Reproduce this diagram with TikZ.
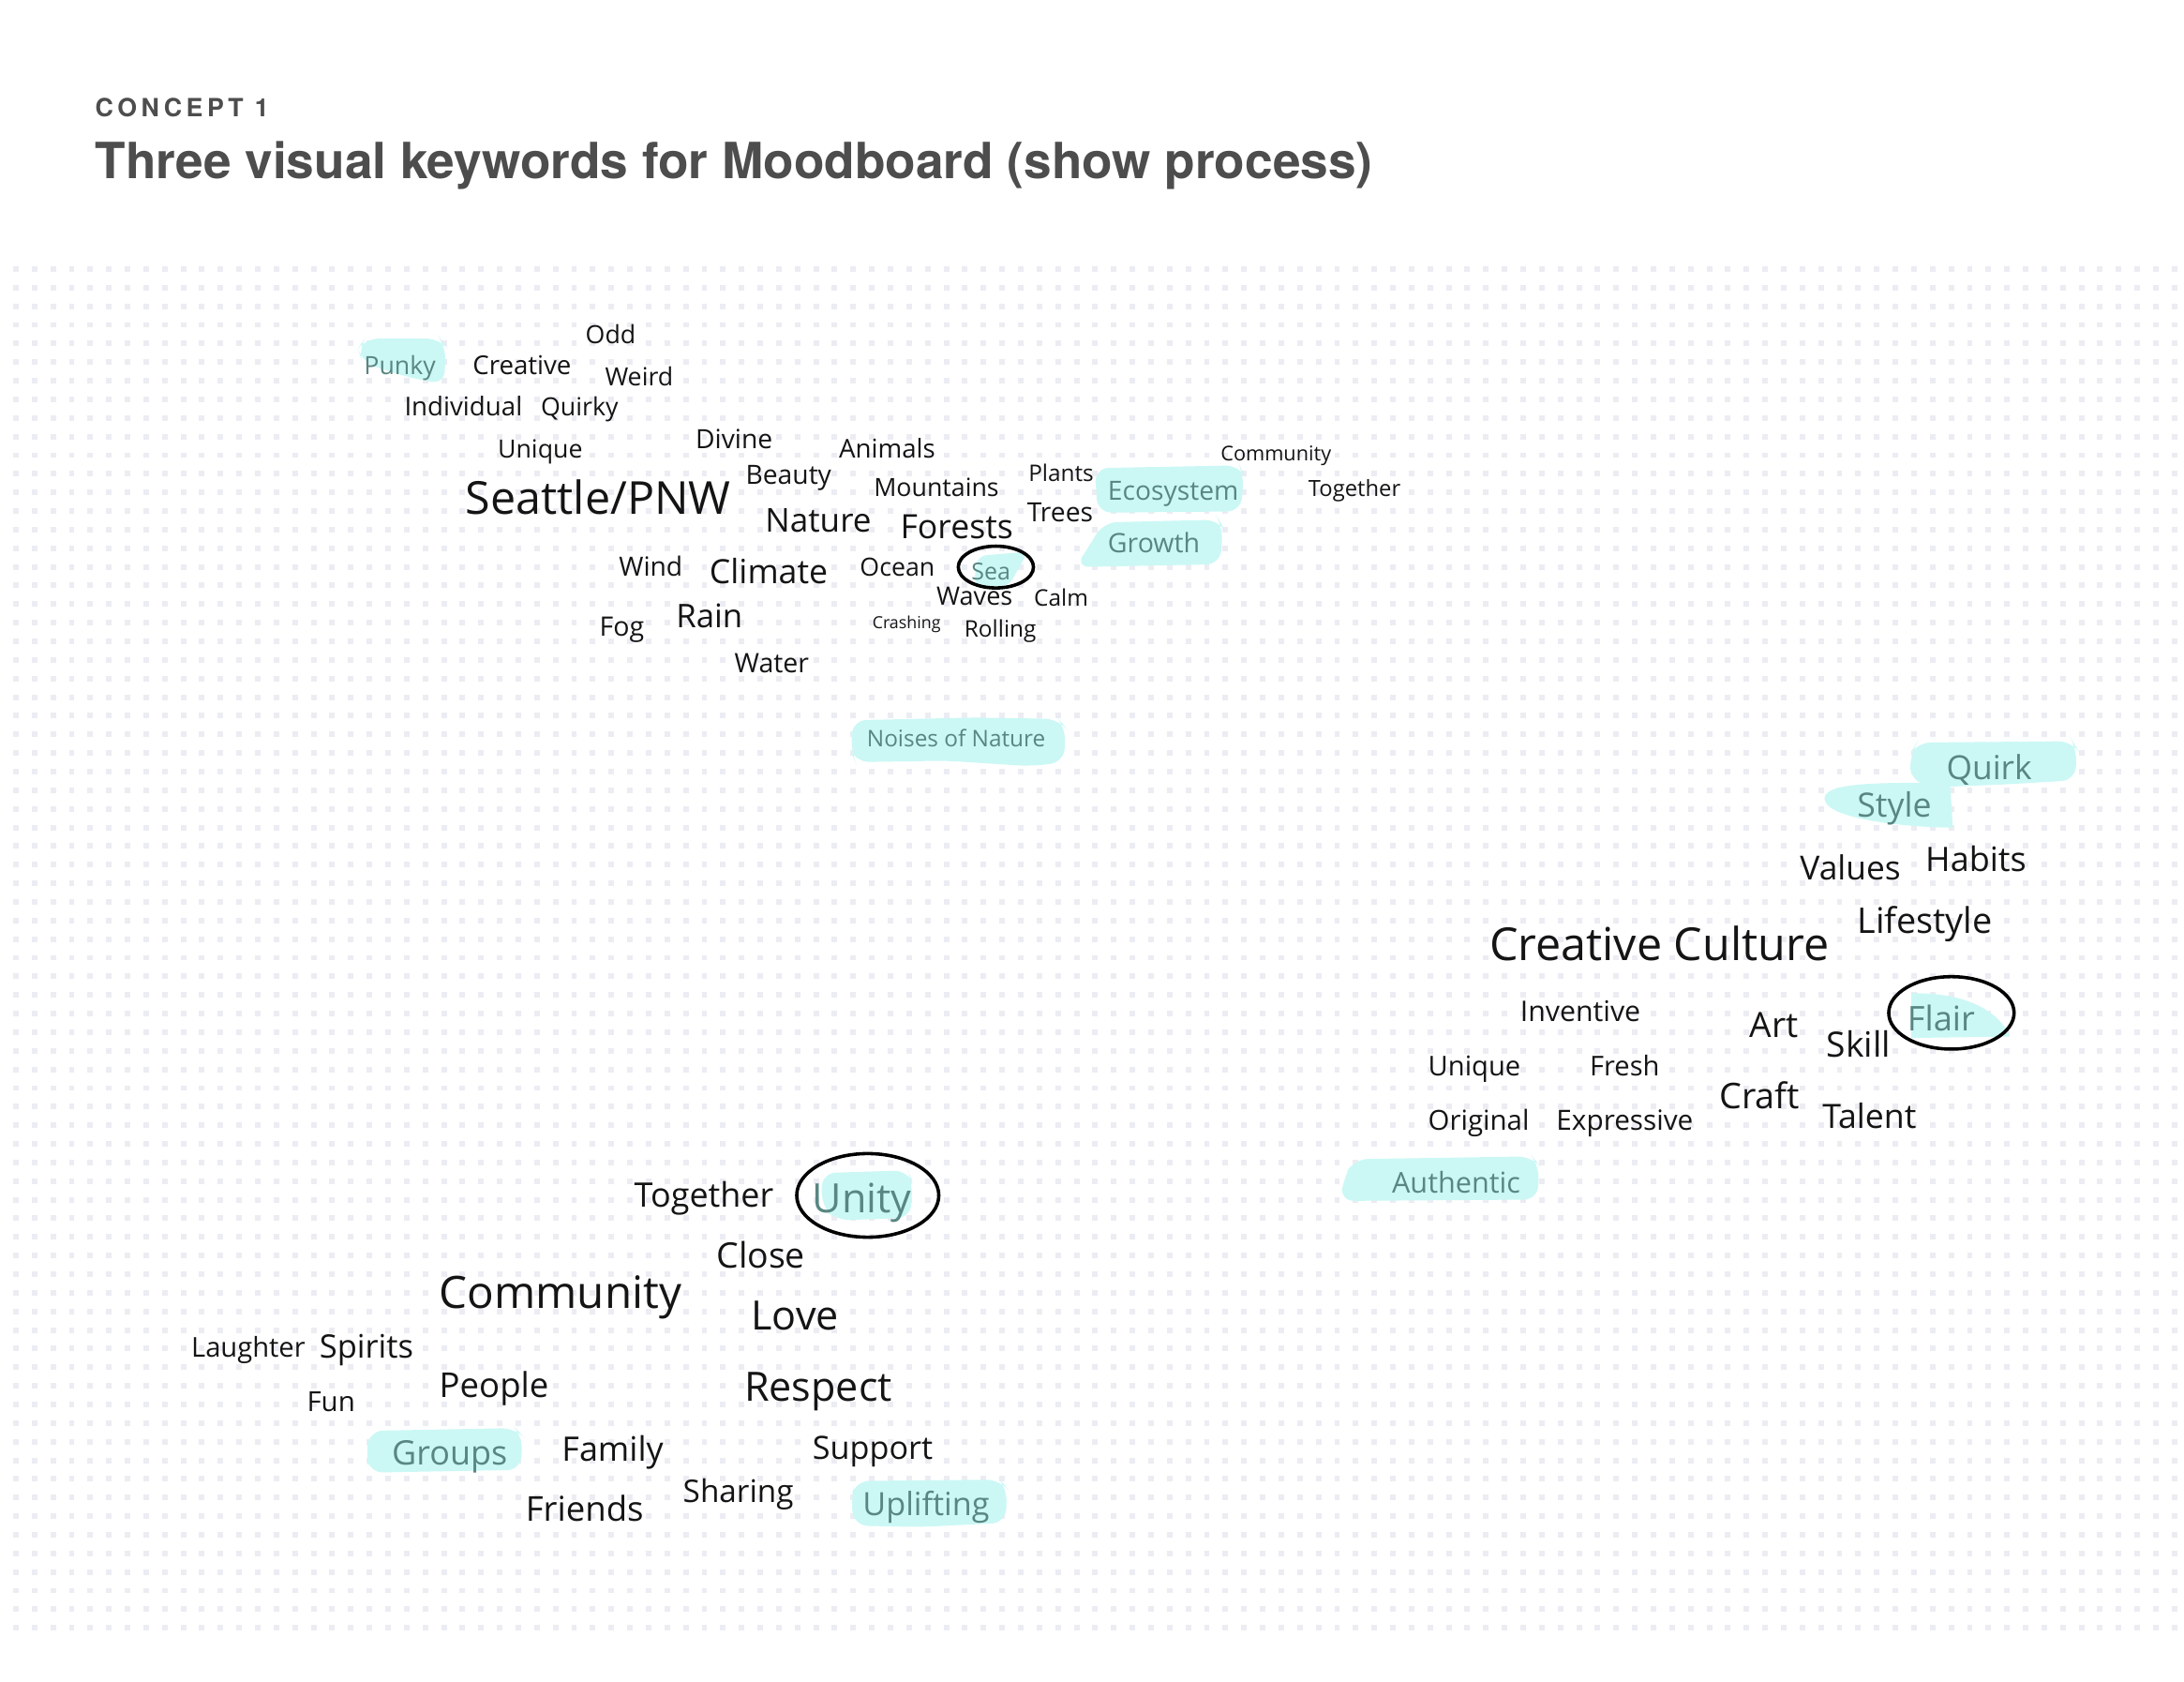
\documentclass[tikz,border=0pt]{standalone}
\usepackage{fontspec}
\setmainfont{Open Sans}
\newfontfamily\headfont{TeX Gyre Heros}
\newfontfamily\kickerfont[LetterSpace=17]{TeX Gyre Heros}
\newfontfamily\cloudfont{Open Sans}
\usetikzlibrary{positioning}
\newcommand\wsize[1]{\cloudfont\fontsize{#1}{#1}\selectfont}
\tikzset{
  kw/.style={anchor=mid west, inner sep=0pt, text=inkblack, font=\wsize{#1}, yshift={-0.18*#1pt}},
  pick/.style={kw=#1, text=hltext},
  hl/.style={fill=hlfill, rounded corners=5pt},
  ring/.style={draw=black, line width=1.2pt},
  dotrow/.style={draw=dotgrey, line width=2pt, dash pattern=on 2pt off 4.68pt},
  head/.style={anchor=base west, inner sep=0pt, text=headgrey}
}

\begin{document}
\begin{tikzpicture}[x=0.5pt, y=-0.5pt]
\definecolor{inkblack}{RGB}{20,20,20}
\definecolor{hltext}{RGB}{88,134,130}
\definecolor{hlfill}{RGB}{203,248,245}
\definecolor{dotgrey}{RGB}{236,236,243}
\definecolor{headgrey}{RGB}{77,77,77}

\useasboundingbox (0,0) rectangle (1568,1207);
\fill[white] (0,0) rectangle (1568,1207);

% dot grid
\foreach \r in {0,...,73}
  \draw[dotrow] (9.4,{193.1+13.36*\r}) -- (1563.5,{193.1+13.36*\r});

% heading
\node[head, font=\kickerfont\bfseries\fontsize{9}{9}\selectfont] (kicker) at (68,84) {CONCEPT 1};
\node[head, font=\headfont\bfseries\fontsize{17.9}{17.9}\selectfont] (title) at (68,128) {Three visual keywords for Moodboard (show process)};

% highlighter marks
\fill[hl] (262,243) -- (316,243) -- (320,248) -- (319,276) -- (290,270) -- (260,260) -- (257,250) -- cycle;
\fill[hl] (786,336) -- (890,334) -- (893,340) -- (891,367) -- (788,368) -- cycle;
\fill[hl] (792,375) -- (875,373) -- (878,378) -- (876,405) -- (772,407) -- (782,392) -- cycle;
\fill[hl, rounded corners=3pt] (702,399) -- (738,396) -- (724,421) -- (699,420) -- cycle;
\fill[hl] (612,517) -- (700,515) -- (760,516) -- (765,522) -- (764,547) -- (740,550) -- (680,546) -- (614,547) -- (611,540) -- cycle;
\fill[hl] (1376,533) -- (1488,532) -- (1491,537) -- (1490,560) -- (1440,563) -- (1390,565) -- (1371,560) -- (1372,540) -- cycle;
\fill[hlfill] (1400,562) -- (1402,594) .. controls (1370,594) and (1312,588) .. (1310,574) .. controls (1309,564) and (1330,561) .. (1400,562) -- cycle;
\fill[hlfill] (1372,713) .. controls (1410,712) and (1435,725) .. (1443,744) -- (1372,745) -- cycle;
\fill[hl] (972,832) -- (1100,830) -- (1105,836) -- (1104,861) -- (962,862) -- (965,845) -- cycle;
\fill[hl] (590,842) -- (652,840) -- (655,848) -- (654,874) -- (600,876) -- (590,866) -- cycle;
\fill[hl] (265,1027) -- (370,1025) -- (375,1030) -- (374,1055) -- (265,1057) -- (263,1045) -- cycle;
\fill[hl] (614,1063) -- (718,1062) -- (723,1068) -- (722,1093) -- (660,1096) -- (613,1095) -- (611,1075) -- cycle;

% Seattle/PNW cluster
\node[kw=9] (odd) at (420,238) {Odd};
\node[pick=9] (punky) at (261,260) {Punky};
\node[kw=9.3] (creative) at (339,260) {Creative};
\node[kw=9] (weird) at (434,268) {Weird};
\node[kw=9.3] (individual) at (290,290) {Individual};
\node[kw=9] (quirky) at (388,290) {Quirky};
\node[kw=9] (unique) at (357,320) {Unique};
\node[kw=9.5] (divine) at (499,313) {Divine};
\node[kw=9.3] (animals) at (602,320) {Animals};
\node[kw=9.5] (beauty) at (535,339) {Beauty};
\node[kw=9] (mountains) at (627,348) {Mountains};
\node[kw=8.2] (plants) at (738,337) {Plants};
\node[kw=9.5] (trees) at (737,366) {Trees};
\node[pick=9.5] (ecosystem) at (795,350) {Ecosystem};
\node[kw=7.3] (community) at (876,323) {Community};
\node[kw=8] (together) at (939,348) {Together};
\node[pick=9.6] (growth) at (795,388) {Growth};
\node[kw=16.3] (seattle) at (334,358) {Seattle/PNW};
\node[kw=11.8] (nature) at (549,372) {Nature};
\node[kw=12] (forests) at (646,377) {Forests};
\node[kw=9.5] (wind) at (444,405) {Wind};
\node[kw=12] (climate) at (509,409) {Climate};
\node[kw=9] (ocean) at (617,405) {Ocean};
\node[pick=8.4] (sea) at (697,408) {Sea};
\node[kw=9.1] (waves) at (672,426) {Waves};
\node[kw=8.2] (calm) at (742,427) {Calm};
\node[kw=6] (crashing) at (626,444) {Crashing};
\node[kw=8.2] (rolling) at (692,449) {Rolling};
\node[kw=9.6] (fog) at (430,448) {Fog};
\node[kw=11.7] (rain) at (485,441) {Rain};
\node[kw=9.6] (water) at (527,474) {Water};
\node[pick=8.2] (noises) at (622,528) {Noises of Nature};

% Creative Culture cluster
\node[pick=11.9] (quirk) at (1397,550) {Quirk};
\node[pick=12] (style) at (1333,577) {Style};
\node[kw=11.9] (values) at (1292,622) {Values};
\node[kw=12.1] (habits) at (1382,616) {Habits};
\node[kw=12.7] (lifestyle) at (1333,660) {Lifestyle};
\node[kw=16.3] (culture) at (1069,678) {Creative Culture};
\node[kw=10.2] (inventive) at (1091,724) {Inventive};
\node[kw=12.5] (art) at (1256,735) {Art};
\node[kw=12.5] (skill) at (1311,749) {Skill};
\node[pick=12.2] (flair) at (1369,730) {Flair};
\node[kw=9.8] (uniquecc) at (1025,763) {Unique};
\node[kw=9.8] (fresh) at (1141,763) {Fresh};
\node[kw=9.9] (original) at (1025,802) {Original};
\node[kw=10] (expressive) at (1117,802) {Expressive};
\node[kw=12.7] (craft) at (1234,786) {Craft};
\node[kw=12] (talent) at (1308,800) {Talent};
\node[pick=10.3] (authentic) at (999,847) {Authentic};

% Community cluster
\node[kw=12.1] (togethercom) at (455,857) {Together};
\node[pick=14.5] (unity) at (583,860) {Unity};
\node[kw=12.6] (close) at (514,900) {Close};
\node[kw=16] (communitycom) at (315,928) {Community};
\node[kw=14.5] (love) at (539,944) {Love};
\node[kw=9.8] (laughter) at (137,965) {Laughter};
\node[kw=11.6] (spirits) at (229,965) {Spirits};
\node[kw=9.9] (fun) at (220,1004) {Fun};
\node[kw=12.3] (people) at (315,993) {People};
\node[kw=14.5] (respect) at (534,995) {Respect};
\node[pick=12.1] (groups) at (281,1042) {Groups};
\node[kw=12.1] (family) at (403,1039) {Family};
\node[kw=11.5] (support) at (583,1038) {Support};
\node[kw=11.2] (sharing) at (490,1069) {Sharing};
\node[kw=12.3] (friends) at (377,1082) {Friends};
\node[pick=11.5] (uplifting) at (619,1078) {Uplifting};

% circled keywords
\draw[ring] (715,407) ellipse [x radius=13.5pt, y radius=7.5pt];
\draw[ring] (1401,727) ellipse [x radius=22.5pt, y radius=13pt];
\draw[ring] (623,858) ellipse [x radius=25.5pt, y radius=15pt];
\end{tikzpicture}
\end{document}
